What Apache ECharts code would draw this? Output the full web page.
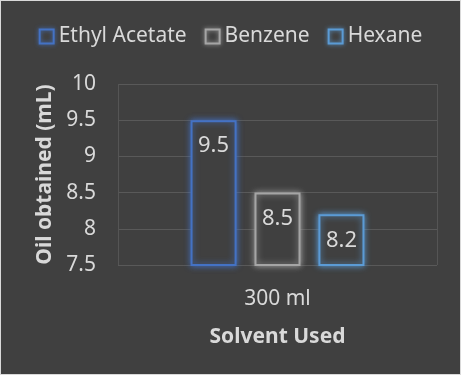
<!DOCTYPE html>
<html><head><meta charset="utf-8">
<script src="https://cdn.jsdelivr.net/npm/echarts@6/dist/echarts.min.js"></script>
<style>html,body{margin:0;padding:0;background:#404040;}#c{width:461px;height:375px;box-sizing:border-box;border:1px solid #d9d9d9;}</style>
</head><body><div id="c"></div>
<script>
const categories = ["300 ml"];
const seriesNames = ["Ethyl Acetate", "Benzene", "Hexane"];
const ethylAcetate = [9.5];
const benzene = [8.5];
const hexane = [8.2];
const colors = ["#4472C4", "#A5A5A5", "#5B9BD5"];
const yTicks = [7.5, 8, 8.5, 9, 9.5, 10];
const values = [ethylAcetate, benzene, hexane];
const FONT = "Noto Sans";
const chart = echarts.init(document.getElementById('c'));
chart.setOption({
  backgroundColor: '#404040',
  textStyle: {fontFamily: FONT},
  legend: {
    top: 20, left: 'center', itemWidth: 14, itemHeight: 14, itemGap: 18,
    textStyle: {color: '#D9D9D9', fontSize: 21, fontFamily: FONT},
    data: seriesNames.map((n, i) => ({name: n, icon: 'rect', itemStyle: {color: 'transparent', borderColor: colors[i], borderWidth: 2, shadowBlur: 4, shadowColor: colors[i]}}))
  },
  grid: {left: 117, right: 23, top: 83, bottom: 109},
  xAxis: {
    type: 'category', data: categories,
    axisLine: {show: false}, axisTick: {show: false},
    splitLine: {show: true, lineStyle: {color: '#555555'}},
    axisLabel: {color: '#D9D9D9', fontSize: 21, margin: 24, fontFamily: FONT},
    name: 'Solvent Used', nameLocation: 'middle', nameGap: 62,
    nameTextStyle: {color: '#D9D9D9', fontSize: 21, fontWeight: 'bold', fontFamily: FONT}
  },
  yAxis: {
    type: 'value', min: yTicks[0], max: yTicks[yTicks.length - 1], interval: 0.5,
    axisLine: {show: false}, axisTick: {show: false},
    splitLine: {lineStyle: {color: '#595959'}},
    axisLabel: {color: '#D9D9D9', fontSize: 21, margin: 22, fontFamily: FONT},
    name: 'Oil obtained (mL)', nameLocation: 'middle', nameGap: 61,
    nameTextStyle: {color: '#D9D9D9', fontSize: 21, fontWeight: 'bold', fontFamily: FONT}
  },
  series: seriesNames.map((n, i) => ({
    name: n, type: 'bar', data: values[i],
    barWidth: 46, barGap: '39%',
    itemStyle: {color: '#404040', borderColor: colors[i], borderWidth: 2, shadowBlur: 6, shadowColor: colors[i]},
    label: {show: true, position: 'insideTop', distance: 15, color: '#D9D9D9', fontSize: 22, fontFamily: FONT}
  }))
});
</script></body></html>
